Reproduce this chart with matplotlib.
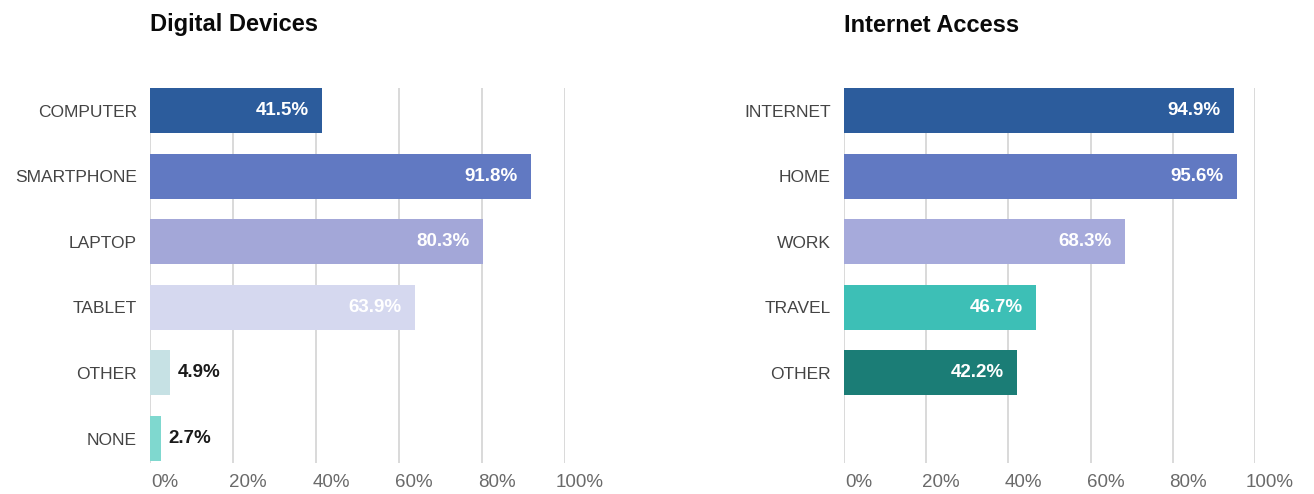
import matplotlib
matplotlib.use("Agg")
import matplotlib.pyplot as plt
from matplotlib.ticker import FixedLocator
from matplotlib.transforms import ScaledTranslation

plt.rcParams['font.family'] = ['Liberation Sans', 'DejaVu Sans']

# Digital devices panel
device_labels = ["COMPUTER", "SMARTPHONE", "LAPTOP", "TABLET", "OTHER", "NONE"]
device_values = [41.5, 91.8, 80.3, 63.9, 4.9, 2.7]
device_colors = ["#2c5c9c", "#6179c2", "#a3a7d8", "#d5d8ef", "#c6e1e4", "#7fd8cf"]

# Internet access panel
access_labels = ["INTERNET", "HOME", "WORK", "TRAVEL", "OTHER"]
access_values = [94.9, 95.6, 68.3, 46.7, 42.2]
access_colors = ["#2c5c9c", "#6179c2", "#a6aadb", "#3dbfb6", "#1b7d76"]

x_ticks = [0, 20, 40, 60, 80, 100]
x_tick_labels = ["0%", "20%", "40%", "60%", "80%", "100%"]

W, H = 1314, 494
fig = plt.figure(figsize=(W / 100, H / 100), dpi=100)

bar_h = 0.687
ylim = (5 + bar_h / 2 + 0.03, -bar_h / 2)
ax_bottom = 1 - 463 / H
ax_height = 375 / H


def draw_panel(ax, title, labels, values, colors):
    ys = list(range(len(labels)))
    ax.set_xlim(0, 100)
    ax.set_ylim(*ylim)
    for x in x_ticks:
        ax.axvline(x, color="#d3d3d3", lw=1.2, zorder=0)
    ax.barh(ys, values, height=bar_h, color=colors, zorder=2)
    for y, v in zip(ys, values):
        txt = f"{v:.1f}%"
        if v > 15:
            ax.text(v - 3.2, y, txt, ha="right", va="center", color="white",
                    fontsize=13.5, fontweight="bold", zorder=3)
        else:
            ax.text(v + 1.8, y, txt, ha="left", va="center", color="#1a1a1a",
                    fontsize=13.5, fontweight="bold", zorder=3)
    ax.set_yticks(ys)
    ax.set_yticklabels(labels, fontsize=12.5, color="#444444")
    ax.xaxis.set_major_locator(FixedLocator(x_ticks))
    ax.set_xticklabels(x_tick_labels, fontsize=13.5, color="#6a6a6a")
    ax.tick_params(axis="y", length=0, pad=9.5)
    ax.tick_params(axis="x", length=0, pad=8)
    # percentage labels sit a little to the right of their gridlines
    shift = ScaledTranslation(15 / 100, 0, fig.dpi_scale_trans)
    for lbl in ax.get_xticklabels():
        lbl.set_transform(lbl.get_transform() + shift)
    for s in ax.spines.values():
        s.set_visible(False)
    fig.text(ax.get_position().x0, 1 - 25 / H, title, ha="left", va="center",
             fontsize=17, fontweight="bold", color="#0a0a0a")


ax1 = fig.add_axes([150 / W, ax_bottom, 415 / W, ax_height])
draw_panel(ax1, "Digital Devices", device_labels, device_values, device_colors)

ax2 = fig.add_axes([844 / W, ax_bottom, 411 / W, ax_height])
draw_panel(ax2, "Internet Access", access_labels, access_values, access_colors)

fig.savefig("out.png", dpi=100, facecolor="white")
